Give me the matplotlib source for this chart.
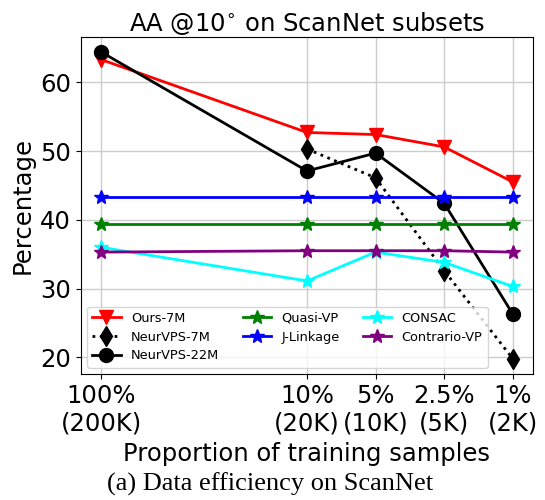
import matplotlib
matplotlib.use("Agg")
import matplotlib.pyplot as plt
import numpy as np

x_pos = [0, 3, 4, 5, 6]
x_labels = ["100%\n(200K)", "10%\n(20K)", "5%\n(10K)", "2.5%\n(5K)", "1%\n(2K)"]

ours_7m = [63.3, 52.7, 52.4, 50.6, 45.5]
neurvps_7m = [np.nan, 50.3, 46.1, 32.6, 19.8]
neurvps_22m = [64.4, 47.1, 49.7, 42.4, 26.3]
quasi_vp = [39.4, 39.4, 39.4, 39.4, 39.4]
j_linkage = [43.3, 43.3, 43.3, 43.3, 43.3]
consac = [36.0, 31.1, 35.3, 33.8, 30.3]
contrario_vp = [35.3, 35.5, 35.5, 35.5, 35.3]

fig = plt.figure(figsize=(5.45, 5.0), dpi=100)
ax = fig.add_axes([0.148, 0.252, 0.8306, 0.6746])

lw = 2
ms = 10
ax.plot(x_pos, ours_7m, color="red", marker="v", lw=lw, ms=ms, label="Ours-7M")
ax.plot(x_pos, neurvps_7m, color="black", marker="d", ls=":", lw=lw, ms=ms, label="NeurVPS-7M")
ax.plot(x_pos, neurvps_22m, color="black", marker="o", lw=lw, ms=ms, label="NeurVPS-22M")
ax.plot(x_pos, quasi_vp, color="green", marker="*", lw=lw, ms=ms, label="Quasi-VP")
ax.plot(x_pos, j_linkage, color="blue", marker="*", lw=lw, ms=ms, label="J-Linkage")
ax.plot(x_pos, consac, color="cyan", marker="*", lw=lw, ms=ms, label="CONSAC")
ax.plot(x_pos, contrario_vp, color="purple", marker="*", lw=lw, ms=ms, label="Contrario-VP")

ax.set_xticks(x_pos)
ax.set_xticklabels(x_labels)
ax.set_yticks([20, 30, 40, 50, 60])
ax.tick_params(labelsize=17.5)
ax.grid(True, color="#cccccc", lw=1)
ax.set_axisbelow(True)
ax.set_title("AA @10$^{\\circ}$ on ScanNet subsets", fontsize=17.5, pad=4)
ax.set_ylabel("Percentage", fontsize=17.5)
ax.set_xlabel("Proportion of training samples", fontsize=17.5, labelpad=5)
ax.legend(ncol=3, loc="lower left", fontsize=9.3, handlelength=2.2,
          columnspacing=1.8, handletextpad=0.8, borderpad=0.4, labelspacing=0.45)

fig.text(0.495, 0.032, "(a) Data efficiency on ScanNet", ha="center", va="center",
         fontsize=19, family="Liberation Serif")

fig.savefig("out.png", dpi=100)
